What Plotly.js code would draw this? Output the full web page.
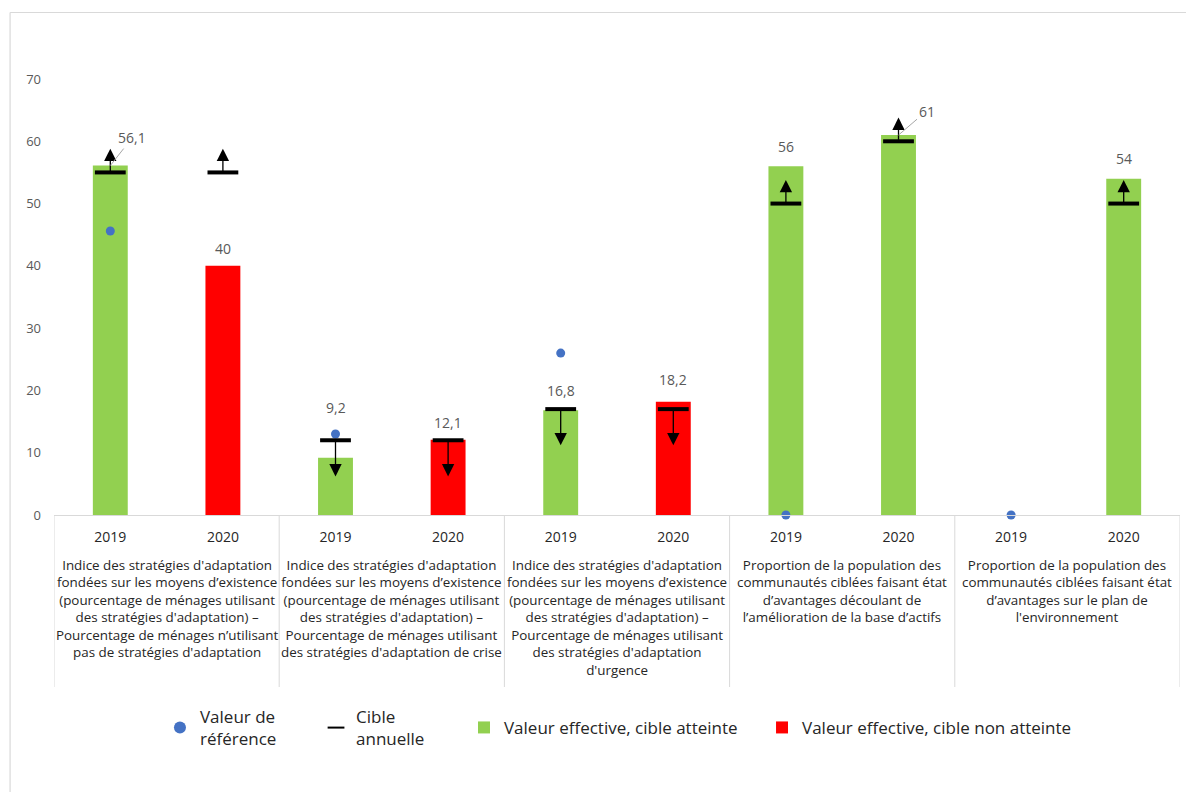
<!DOCTYPE html>
<html>
<head>
<meta charset="utf-8">
<script src="https://cdn.plot.ly/plotly-3.0.1.min.js"></script>
<style>html,body{margin:0;padding:0;background:#fff;}#chart{width:1186px;height:792px;}</style>
</head>
<body>
<div id="chart"></div>
<script>
// ---------- data ----------
const years = ["2019","2020","2019","2020","2019","2020","2019","2020","2019","2020"];
const groupLabels = [
  "Indice des stratégies d'adaptation<br>fondées sur les moyens d’existence<br>(pourcentage de ménages utilisant<br>des stratégies d'adaptation) –<br>Pourcentage de ménages n’utilisant<br>pas de stratégies d'adaptation",
  "Indice des stratégies d'adaptation<br>fondées sur les moyens d’existence<br>(pourcentage de ménages utilisant<br>des stratégies d'adaptation) –<br>Pourcentage de ménages utilisant<br>des stratégies d'adaptation de crise",
  "Indice des stratégies d'adaptation<br>fondées sur les moyens d’existence<br>(pourcentage de ménages utilisant<br>des stratégies d'adaptation) –<br>Pourcentage de ménages utilisant<br>des stratégies d'adaptation<br>d'urgence",
  "Proportion de la population des<br>communautés ciblées faisant état<br>d’avantages découlant de<br>l’amélioration de la base d’actifs",
  "Proportion de la population des<br>communautés ciblées faisant état<br>d’avantages sur le plan de<br>l'environnement"
];
const actual   = [56.1, 40, 9.2, 12.1, 16.8, 18.2, 56, 61, null, 54];
const met      = [true, false, true, false, true, false, true, true, null, true];
const baseline = [45.6, null, 13, null, 26, null, 0, null, 0, null];
const target   = [55, 55, 12, 12, 17, 17, 50, 60, null, 50];
const direction = [1, 1, -1, -1, -1, -1, 1, 1, null, 1]; // 1 = higher is better, -1 = lower is better
const legendNames = ["Valeur de<br>référence", "Cible<br>annuelle", "Valeur effective, cible atteinte", "Valeur effective, cible non atteinte"];

// ---------- styles ----------
const FONT = "Open Sans, Noto Sans, sans-serif";
const GREEN = "#92d050", RED = "#ff0000", BLUE = "#4472c4", GRID = "#d9d9d9";
const upLen = 3.8, downLen = 5.8;
const labelShift = [0, 6, 39, 6, 8, 11, 8, 0, 0, 9];
const leader = {0: {ax: 22, ay: -28}, 7: {ax: 28, ay: -24}};

const xs = years.map((_, i) => i);
const fmt = v => String(v).replace(".", ",");

const traces = [
  {
    type: "bar", x: xs, y: actual.map((v, i) => met[i] === true ? v : null),
    name: legendNames[2], marker: {color: GREEN}, width: 0.31, hoverinfo: "y", legend: "legend3"
  },
  {
    type: "bar", x: xs, y: actual.map((v, i) => met[i] === false ? v : null),
    name: legendNames[3], marker: {color: RED}, width: 0.31, hoverinfo: "y", legend: "legend4"
  },
  {
    type: "scatter", mode: "markers", x: xs, y: baseline, name: legendNames[0],
    marker: {color: BLUE, size: 9}, cliponaxis: false, legend: "legend"
  },
  {
    type: "scatter", mode: "markers", x: xs, y: target, name: legendNames[1],
    marker: {symbol: "line-ew", size: 22, color: "#000", line: {color: "#000", width: 4}},
    cliponaxis: false, legend: "legend2"
  }
];

const annotations = [];
// arrows showing the desired direction
xs.forEach(i => {
  if (target[i] == null) return;
  const tip = direction[i] > 0 ? target[i] + upLen : target[i] - downLen;
  annotations.push({
    x: i, y: tip, ax: i, ay: target[i], xref: "x", yref: "y", axref: "x", ayref: "y",
    text: "", showarrow: true, arrowhead: 2, arrowsize: 1.9, arrowwidth: 1.3,
    arrowcolor: "#000", standoff: 0, startstandoff: 0
  });
});
// value labels
xs.forEach(i => {
  if (actual[i] == null) return;
  if (leader[i]) {
    annotations.push({
      x: i, y: actual[i], xref: "x", yref: "y", text: fmt(actual[i]),
      showarrow: true, arrowhead: 0, arrowwidth: 1, arrowcolor: "#a6a6a6",
      ax: leader[i].ax, ay: leader[i].ay, standoff: 0,
      font: {family: FONT, size: 14, color: "#595959"}
    });
  } else {
    annotations.push({
      x: i, y: actual[i], xref: "x", yref: "y", text: fmt(actual[i]),
      showarrow: false, yanchor: "bottom", yshift: labelShift[i],
      font: {family: FONT, size: 14, color: "#595959"}
    });
  }
});
// group labels
groupLabels.forEach((t, g) => {
  annotations.push({
    x: 2 * g + 0.5, y: -0.0905, xref: "x", yref: "paper", yanchor: "top",
    text: t, showarrow: false, align: "center",
    font: {family: FONT, size: 13.4, color: "#262626"}
  });
});

const shapes = [];
// group separators
for (let g = 0; g <= groupLabels.length; g++) {
  shapes.push({
    type: "line", xref: "x", yref: "paper", x0: 2 * g - 0.5, x1: 2 * g - 0.5,
    y0: 0, y1: -0.3945, line: {color: GRID, width: 1}
  });
}
// outer chart border
shapes.push({type: "line", xref: "paper", yref: "paper", x0: -0.039, x1: 1.01, y0: 1.1525, y1: 1.1525, line: {color: GRID, width: 1.2}});
shapes.push({type: "line", xref: "paper", yref: "paper", x0: -0.039, x1: -0.039, y0: 1.1525, y1: -0.64, line: {color: GRID, width: 1.2}});

const legBase = {
  orientation: "h", xanchor: "left", yanchor: "top",
  font: {family: FONT, size: 17, color: "#262626"},
  itemsizing: "constant", bgcolor: "rgba(0,0,0,0)"
};

const layout = {
  width: 1186, height: 792,
  margin: {l: 54, r: 6, t: 79, b: 277},
  paper_bgcolor: "#fff", plot_bgcolor: "#fff",
  font: {family: FONT, color: "#595959"},
  barmode: "overlay",
  showlegend: true,
  legend:  Object.assign({}, legBase, {x: 0.0941, y: -0.422}),
  legend2: Object.assign({}, legBase, {x: 0.2327, y: -0.422}),
  legend3: Object.assign({}, legBase, {x: 0.3641, y: -0.447}),
  legend4: Object.assign({}, legBase, {x: 0.6288, y: -0.447}),
  xaxis: {
    range: [-0.5, 9.5], tickmode: "array", tickvals: xs, ticktext: years,
    showline: true, linecolor: GRID, linewidth: 1, showgrid: false, zeroline: false,
    ticks: "", ticklabelstandoff: 9,
    tickfont: {family: FONT, size: 14, color: "#262626"}, fixedrange: true
  },
  yaxis: {
    range: [0, 70], dtick: 10, showgrid: false, zeroline: false, showline: false,
    ticks: "", ticklabelstandoff: 12,
    tickfont: {family: FONT, size: 13, color: "#595959"}, fixedrange: true
  },
  annotations: annotations,
  shapes: shapes
};

Plotly.newPlot("chart", traces, layout, {displayModeBar: false, staticPlot: true});
</script>
</body>
</html>
